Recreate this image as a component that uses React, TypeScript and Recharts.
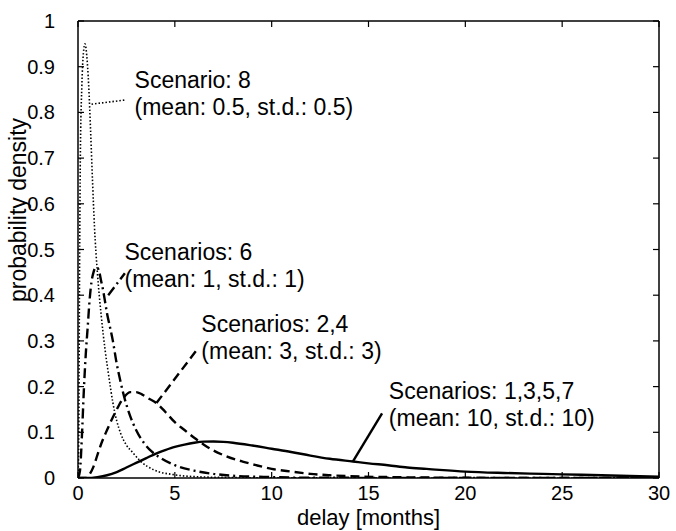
import React from 'react';
import { LineChart, Line, XAxis, YAxis, ReferenceLine, ReferenceDot } from 'recharts';

const FONT = '"Liberation Sans", Arial, Helvetica, sans-serif';

// ---- axis ticks ----
const xTicks = [0, 5, 10, 15, 20, 25, 30];
const yTicks = [0, 0.1, 0.2, 0.3, 0.4, 0.5, 0.6, 0.7, 0.8, 0.9, 1];

// ---- Scenario 8 (mean 0.5, sd 0.5) : dotted ----
const s8X = [0, 0.04, 0.08, 0.12, 0.2, 0.28, 0.36, 0.45, 0.55, 0.65, 0.75, 0.85, 1.0, 1.2, 1.4, 1.6, 1.8, 2.0, 2.2, 2.5, 2.8, 3.2, 3.9, 5, 6, 8, 10, 30];
const s8Y = [0, 0.1, 0.45, 0.7, 0.86, 0.93, 0.95, 0.925, 0.86, 0.76, 0.65, 0.55, 0.45, 0.355, 0.28, 0.22, 0.165, 0.125, 0.098, 0.072, 0.057, 0.038, 0.018, 0.007, 0.003, 0.001, 0.0003, 0];

// ---- Scenario 6 (mean 1, sd 1) : dash-dot ----
const s6X = [0, 0.1, 0.2, 0.3, 0.4, 0.5, 0.6, 0.7, 0.8, 0.9, 1.0, 1.1, 1.2, 1.3, 1.4, 1.5, 1.6, 1.8, 2.0, 2.2, 2.4, 2.7, 3.0, 3.4, 3.8, 4.3, 5, 6, 7, 8, 10, 12, 30];
const s6Y = [0, 0.015, 0.09, 0.19, 0.27, 0.33, 0.39, 0.43, 0.45, 0.46, 0.46, 0.45, 0.43, 0.41, 0.385, 0.36, 0.34, 0.3, 0.25, 0.21, 0.175, 0.135, 0.105, 0.077, 0.058, 0.043, 0.028, 0.016, 0.009, 0.005, 0.002, 0.0005, 0];

// ---- Scenarios 2,4 (mean 3, sd 3) : dashed ----
const s24X = [0, 0.4, 0.6, 0.8, 1.0, 1.2, 1.5, 1.8, 2.1, 2.4, 2.7, 3.0, 3.3, 3.6, 4.05, 4.5, 5.0, 5.5, 6.0, 6.5, 7.0, 7.7, 8.5, 9.2, 10, 11, 12, 13, 14, 16, 18, 22, 30];
const s24Y = [0, 0, 0.008, 0.025, 0.05, 0.075, 0.105, 0.133, 0.158, 0.178, 0.188, 0.188, 0.183, 0.175, 0.164, 0.145, 0.122, 0.105, 0.088, 0.073, 0.06, 0.047, 0.036, 0.028, 0.02, 0.014, 0.009, 0.006, 0.004, 0.002, 0.001, 0.0003, 0];

// ---- Scenarios 1,3,5,7 (mean 10, sd 10) : solid ----
const s1X = [0, 0.5, 1.0, 1.5, 2, 2.5, 3, 3.5, 4, 4.5, 5, 5.5, 6, 6.5, 7, 7.5, 8, 9, 10, 11, 12, 13, 14.2, 15, 16, 17, 18, 20, 22, 24, 26, 28, 30];
const s1Y = [0, 0, 0.002, 0.006, 0.013, 0.023, 0.033, 0.043, 0.053, 0.061, 0.068, 0.073, 0.077, 0.0795, 0.08, 0.079, 0.077, 0.071, 0.064, 0.057, 0.049, 0.042, 0.036, 0.032, 0.028, 0.023, 0.02, 0.014, 0.011, 0.009, 0.007, 0.005, 0.003];

const rows = (xs: number[], ys: number[]) => xs.map((x, i) => ({ x, y: ys[i] }));

// ---- annotations ----
const annLines = [
  ['Scenario: 8', '(mean: 0.5, st.d.: 0.5)'],
  ['Scenarios: 6', '(mean: 1, st.d.: 1)'],
  ['Scenarios: 2,4', '(mean: 3, st.d.: 3)'],
  ['Scenarios: 1,3,5,7', '(mean: 10, st.d.: 10)'],
];
const annAnchorX = [2.92, 2.4, 6.37, 16.05];
const annAnchorY = [0.853, 0.477, 0.32, 0.172];
const leaderFromX = [0.7, 1.56, 4.05, 14.19];
const leaderFromY = [0.818, 0.4, 0.164, 0.0357];
const leaderToX = [2.42, 2.42, 6.2, 15.7];
const leaderToY = [0.827, 0.448, 0.284, 0.1416];

const DOT = '1.5 2';
const DASHDOT = '10 4 2 4';
const DASH = '9 5';
const styles = [
  { dash: DOT, w: 1.6 },
  { dash: DASHDOT, w: 2.4 },
  { dash: DASH, w: 2.4 },
  { dash: undefined, w: 2.4 },
];

const BottomTick = (p: any) => (
  <g>
    <line x1={p.x} y1={p.y} x2={p.x} y2={p.y - 6} stroke="#000" strokeWidth={1.2} />
    <text x={p.x} y={p.y + 22} textAnchor="middle" fontSize={20} fontFamily={FONT} fill="#000">
      {String(p.payload.value)}
    </text>
  </g>
);
const TopTick = (p: any) => (
  <line x1={p.x} y1={p.y} x2={p.x} y2={p.y + 6} stroke="#000" strokeWidth={1.2} />
);
const LeftTick = (p: any) => (
  <g>
    <line x1={p.x} y1={p.y} x2={p.x + 6} y2={p.y} stroke="#000" strokeWidth={1.2} />
    <text x={p.x - 23} y={p.y} dy="0.35em" textAnchor="end" fontSize={20} fontFamily={FONT} fill="#000">
      {String(p.payload.value)}
    </text>
  </g>
);
const RightTick = (p: any) => (
  <line x1={p.x} y1={p.y} x2={p.x - 6} y2={p.y} stroke="#000" strokeWidth={1.2} />
);

const annShape = (lines: string[]) => (p: any) => (
  <text x={p.cx} y={p.cy} fontSize={23} fontFamily={FONT} fill="#000">
    <tspan x={p.cx} dy={0}>{lines[0]}</tspan>
    <tspan x={p.cx} dy={27}>{lines[1]}</tspan>
  </text>
);

export default function App() {
  const series = [rows(s8X, s8Y), rows(s6X, s6Y), rows(s24X, s24Y), rows(s1X, s1Y)];
  return (
    <div style={{ position: 'absolute', left: 0, top: 0, width: 676, height: 531, background: '#fff' }}>
      <LineChart width={676} height={531} margin={{ top: 11, right: 7, bottom: 13, left: 18 }}>
        <XAxis
          xAxisId={0}
          dataKey="x"
          type="number"
          domain={[0, 30]}
          ticks={xTicks}
          allowDataOverflow
          height={40}
          tickSize={0}
          tickMargin={0}
          tickLine={false}
          axisLine={{ stroke: '#000', strokeWidth: 1.5 }}
          tick={BottomTick}
          interval={0}
          label={{
            content: (lp: any) => {
              const vb = lp.viewBox || {};
              return (
                <text x={vb.x + vb.width / 2} y={vb.y + 47} textAnchor="middle" fontSize={22} fontFamily={FONT} fill="#000">
                  delay [months]
                </text>
              );
            },
          }}
        />
        <XAxis
          xAxisId="top"
          orientation="top"
          dataKey="x"
          type="number"
          domain={[0, 30]}
          ticks={xTicks}
          allowDataOverflow
          height={10}
          tickSize={0}
          tickMargin={0}
          tickLine={false}
          axisLine={{ stroke: '#000', strokeWidth: 1.5 }}
          tick={TopTick}
          interval={0}
        />
        <YAxis
          yAxisId={0}
          type="number"
          domain={[0, 1]}
          ticks={yTicks}
          allowDataOverflow
          width={60}
          tickSize={0}
          tickMargin={0}
          tickLine={false}
          axisLine={{ stroke: '#000', strokeWidth: 1.5 }}
          tick={LeftTick}
          interval={0}
          label={{
            content: () => {
              const cx = 18;
              const cy = 210;
              return (
                <text x={cx} y={cy} transform={`rotate(-90 ${cx} ${cy})`} textAnchor="middle" dy="0.35em" fontSize={23} fontFamily={FONT} fill="#000">
                  probability density
                </text>
              );
            },
          }}
        />
        <YAxis
          yAxisId="right"
          orientation="right"
          type="number"
          domain={[0, 1]}
          ticks={yTicks}
          allowDataOverflow
          width={10}
          tickSize={0}
          tickMargin={0}
          tickLine={false}
          axisLine={{ stroke: '#000', strokeWidth: 1.5 }}
          tick={RightTick}
          interval={0}
        />
        {series.map((d, i) => (
          <Line
            key={i}
            data={d}
            dataKey="y"
            xAxisId={0}
            yAxisId={0}
            type="monotone"
            stroke="#000"
            strokeWidth={styles[i].w}
            strokeDasharray={styles[i].dash}
            dot={false}
            activeDot={false}
            isAnimationActive={false}
          />
        ))}
        {annLines.map((l, i) => (
          <ReferenceLine
            key={'l' + i}
            xAxisId={0}
            yAxisId={0}
            segment={[
              { x: leaderFromX[i], y: leaderFromY[i] },
              { x: leaderToX[i], y: leaderToY[i] },
            ]}
            stroke="#000"
            strokeWidth={styles[i].w}
            strokeDasharray={styles[i].dash}
          />
        ))}
        {annLines.map((l, i) => (
          <ReferenceDot
            key={'a' + i}
            xAxisId={0}
            yAxisId={0}
            x={annAnchorX[i]}
            y={annAnchorY[i]}
            r={0}
            shape={annShape(l)}
          />
        ))}
      </LineChart>
    </div>
  );
}
